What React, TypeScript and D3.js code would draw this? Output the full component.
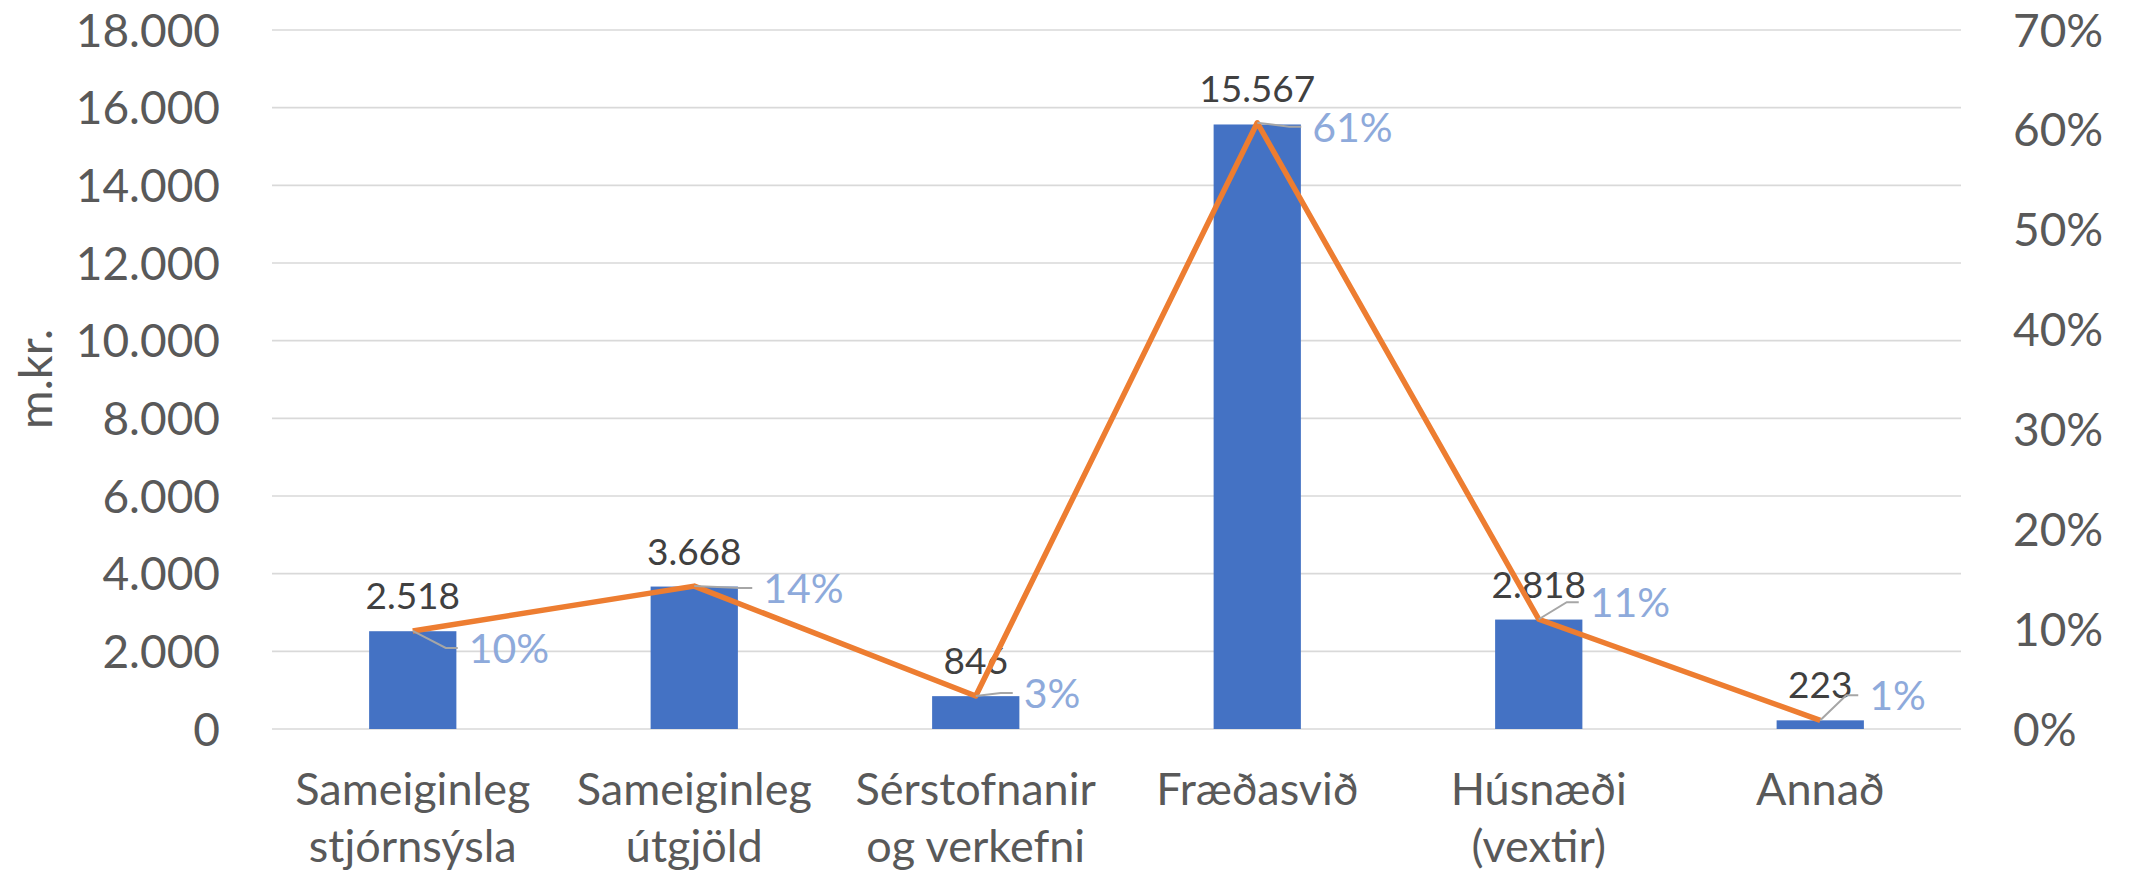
import React from "react";
import * as d3 from "d3";

const categories: string[][] = [
  ["Sameiginleg", "stjórnsýsla"],
  ["Sameiginleg", "útgjöld"],
  ["Sérstofnanir", "og verkefni"],
  ["Fræðasvið"],
  ["Húsnæði", "(vextir)"],
  ["Annað"],
];
const amounts = [2518, 3668, 846, 15567, 2818, 223];
const shares = [0.0982, 0.1431, 0.033, 0.6071, 0.1099, 0.0087];
const leftTicks = [0, 2000, 4000, 6000, 8000, 10000, 12000, 14000, 16000, 18000];
const rightTicks = [0, 0.1, 0.2, 0.3, 0.4, 0.5, 0.6, 0.7];
const axisTitle = "m.kr.";

// manual label placement for the share labels (dx to label left edge, dy to label centre)
const shareLabelOffsets = [
  [56, 17],
  [69, 2],
  [48, -3],
  [55, 4],
  [51, -17],
  [49, -25],
];

const W = 2131;
const H = 875;
const left = 272;
const right = 1961;
const top = 30;
const bottom = 729;
const FONT = "Lato, 'Open Sans', sans-serif";

const loc = d3.formatLocale({ decimal: ",", thousands: ".", grouping: [3], currency: ["", ""] });
const fmtNum = loc.format(",d");
const fmtPct = d3.format(".0%");

export default function App() {
  const idx = categories.map((_, i) => i);
  const x = d3.scaleBand<number>().domain(idx).range([left, right]).paddingInner(0.69).paddingOuter(0.345);
  const y = d3.scaleLinear().domain([0, 18000]).range([bottom, top]);
  const y2 = d3.scaleLinear().domain([0, 0.7]).range([bottom, top]);
  const cx = (i: number) => (x(i) as number) + x.bandwidth() / 2;
  const line = d3
    .line<number>()
    .x((_, i) => cx(i))
    .y((d) => y2(d));

  return (
    <svg
      width={W}
      height={H}
      style={{ position: "absolute", left: 0, top: 0, display: "block", background: "#fff" }}
      fontFamily={FONT}
    >
      {/* gridlines */}
      {leftTicks.map((t) => (
        <line key={"g" + t} x1={left} x2={right} y1={y(t)} y2={y(t)} stroke="#D9D9D9" strokeWidth={1.6} />
      ))}
      {/* left axis labels */}
      {leftTicks.map((t) => (
        <text key={"l" + t} x={220} y={y(t)} dy="0.36em" textAnchor="end" fontSize={46} fill="#595959">
          {fmtNum(t)}
        </text>
      ))}
      {/* right axis labels */}
      {rightTicks.map((t) => (
        <text key={"r" + t} x={2013} y={y2(t)} dy="0.36em" textAnchor="start" fontSize={46} fill="#595959">
          {fmtPct(t)}
        </text>
      ))}
      {/* axis title */}
      <text transform={`translate(52,379) rotate(-90)`} textAnchor="middle" fontSize={47} fill="#595959">
        {axisTitle}
      </text>
      {/* bars */}
      {amounts.map((v, i) => (
        <rect key={"b" + i} x={x(i)} y={y(v)} width={x.bandwidth()} height={y(0) - y(v)} fill="#4472C4" />
      ))}
      {/* value labels */}
      {amounts.map((v, i) => (
        <text key={"v" + i} x={cx(i)} y={y(v) - 22} textAnchor="middle" fontSize={37} fill="#404040">
          {fmtNum(v)}
        </text>
      ))}
      {/* share line */}
      <path d={line(shares) || ""} fill="none" stroke="#ED7D31" strokeWidth={5.5} strokeLinejoin="round" />
      {/* leader lines + share labels */}
      {shares.map((s, i) => {
        const px = cx(i);
        const py = y2(s);
        const [dx, dy] = shareLabelOffsets[i];
        const lx = px + dx;
        const ly = py + dy;
        return (
          <g key={"s" + i}>
            <polyline
              points={`${px},${py} ${lx - 23},${ly} ${lx - 11},${ly}`}
              fill="none"
              stroke="#A6A6A6"
              strokeWidth={2}
            />
            <text x={lx} y={ly} dy="0.36em" fontSize={41} fill="#8EAADB">
              {fmtPct(s)}
            </text>
          </g>
        );
      })}
      {/* category labels */}
      {categories.map((lines, i) => (
        <text key={"c" + i} x={cx(i)} textAnchor="middle" fontSize={45} fill="#595959">
          {lines.map((ln, j) => (
            <tspan key={j} x={cx(i)} y={805 + j * 57}>
              {ln}
            </tspan>
          ))}
        </text>
      ))}
    </svg>
  );
}
